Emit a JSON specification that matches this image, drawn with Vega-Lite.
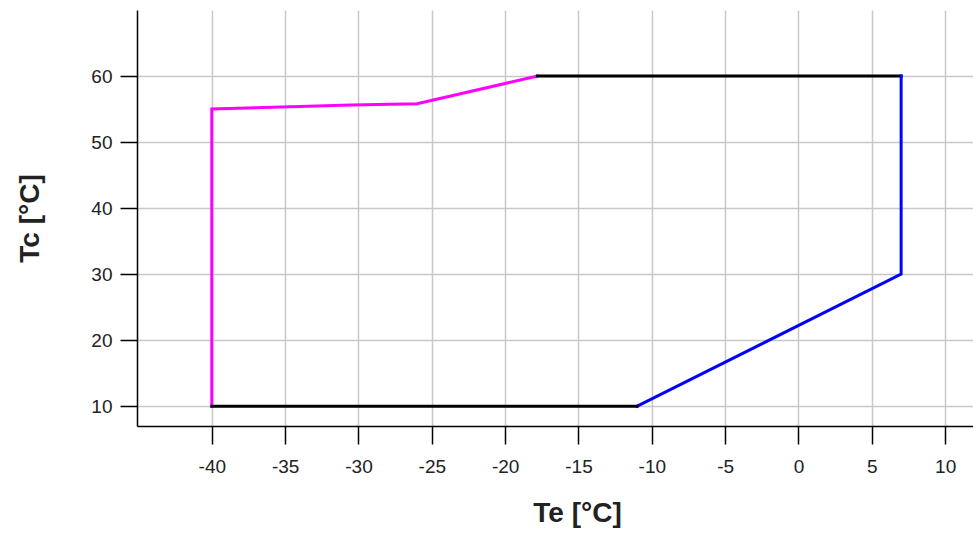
{
  "$schema": "https://vega.github.io/schema/vega-lite/v6.json",
  "autosize": {"type": "none"},
  "padding": {"left": 137, "top": 10, "right": 0, "bottom": 107},
  "width": 836,
  "height": 416,
  "background": "white",
  "config": {
    "view": {"stroke": null},
    "font": "Liberation Sans"
  },
  "data": {
    "values": [
      {"seg": "a", "col": "magenta", "ord": 1, "te": -40, "tc": 10},
      {"seg": "a", "col": "magenta", "ord": 2, "te": -40, "tc": 55},
      {"seg": "a", "col": "magenta", "ord": 3, "te": -35.2, "tc": 55.3},
      {"seg": "a", "col": "magenta", "ord": 4, "te": -30.5, "tc": 55.6},
      {"seg": "a", "col": "magenta", "ord": 5, "te": -26, "tc": 55.8},
      {"seg": "a", "col": "magenta", "ord": 6, "te": -17.8, "tc": 60},
      {"seg": "b", "col": "black", "ord": 1, "te": -17.8, "tc": 60},
      {"seg": "b", "col": "black", "ord": 2, "te": 7, "tc": 60},
      {"seg": "c", "col": "blue", "ord": 1, "te": 7, "tc": 60},
      {"seg": "c", "col": "blue", "ord": 2, "te": 7, "tc": 30},
      {"seg": "c", "col": "blue", "ord": 3, "te": -11, "tc": 10},
      {"seg": "d", "col": "black", "ord": 1, "te": -11, "tc": 10},
      {"seg": "d", "col": "black", "ord": 2, "te": -40, "tc": 10}
    ]
  },
  "mark": {"type": "line", "strokeWidth": 3, "strokeCap": "square", "strokeJoin": "miter", "clip": true},
  "encoding": {
    "x": {
      "field": "te", "type": "quantitative",
      "scale": {"domain": [-45.1, 11.9], "nice": false, "zero": false},
      "axis": {
        "title": "Te [°C]",
        "values": [-40, -35, -30, -25, -20, -15, -10, -5, 0, 5, 10],
        "labelExpr": "toString(datum.value)",
        "grid": true, "gridColor": "#c8c8c8", "gridWidth": 1.5,
        "domainColor": "#000000", "domainWidth": 1.5,
        "tickColor": "#000000", "tickWidth": 1.5, "tickSize": 18,
        "labelFont": "Liberation Sans", "labelFontSize": 19, "labelColor": "#222222", "labelPadding": 13,
        "labelFlush": false,
        "titleFont": "Liberation Sans", "titleFontSize": 28, "titleFontWeight": "bold", "titleColor": "#222222",
        "titleX": 440, "titleY": 87, "titleBaseline": "middle", "titleAlign": "center"
      }
    },
    "y": {
      "field": "tc", "type": "quantitative",
      "scale": {"domain": [7, 70], "nice": false, "zero": false},
      "axis": {
        "title": "Tc [°C]",
        "values": [10, 20, 30, 40, 50, 60],
        "grid": true, "gridColor": "#c8c8c8", "gridWidth": 1.5,
        "domainColor": "#000000", "domainWidth": 1.5,
        "tickColor": "#000000", "tickWidth": 1.5, "tickSize": 17,
        "labelFont": "Liberation Sans", "labelFontSize": 19, "labelColor": "#222222", "labelPadding": 8,
        "labelFlush": false,
        "titleFont": "Liberation Sans", "titleFontSize": 28, "titleFontWeight": "bold", "titleColor": "#222222",
        "titleX": -107, "titleY": 208, "titleBaseline": "middle", "titleAlign": "center", "titleAngle": -90
      }
    },
    "detail": {"field": "seg"},
    "order": {"field": "ord", "type": "quantitative"},
    "color": {
      "field": "col", "type": "nominal",
      "scale": {"domain": ["magenta", "black", "blue"], "range": ["#ff00ff", "#000000", "#0000ff"]},
      "legend": null
    }
  }
}
